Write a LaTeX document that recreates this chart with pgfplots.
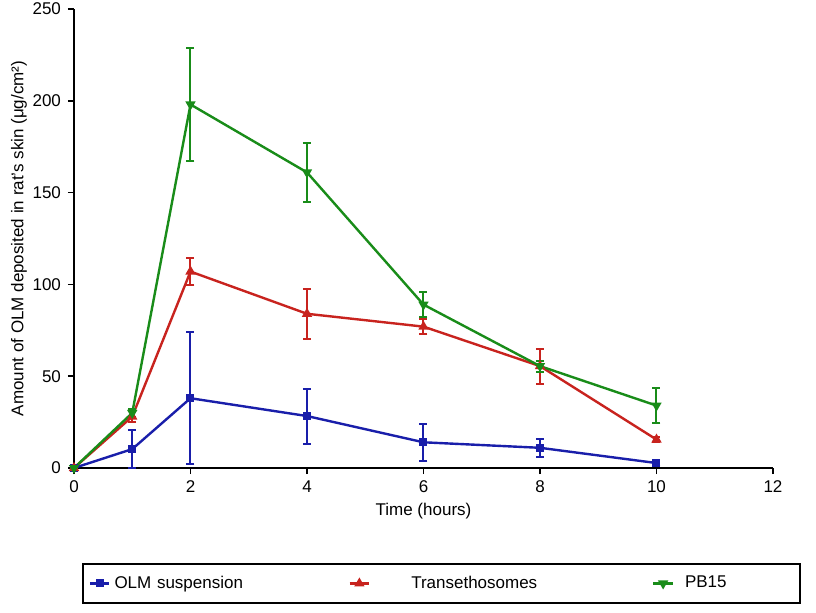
\documentclass[border=0pt]{standalone}
\usepackage{fontspec}
\setmainfont{Liberation Sans}
\usepackage{pgfplots}
\pgfplotsset{compat=1.18}
\definecolor{cblue}{RGB}{25,30,170}
\definecolor{cred}{RGB}{200,35,30}
\definecolor{cgreen}{RGB}{25,140,25}
\begin{document}
\begin{tikzpicture}
\useasboundingbox (0,0) rectangle (408pt,306pt);
\begin{axis}[
  at={(37pt,72pt)}, anchor=south west,
  scale only axis, width=349.5pt, height=229.5pt,
  xmin=0, xmax=12, ymin=0, ymax=250,
  axis x line*=bottom, axis y line*=left,
  axis line style={line width=0.8pt, -},
  xtick={0,2,4,6,8,10,12}, ytick={0,50,100,150,200,250},
  tick align=outside, major tick length=3pt,
  tick style={line width=0.8pt, black},
  /pgf/number format/assume math mode=true,
  ticklabel style={font=\fontsize{8.5}{10}\selectfont},
  label style={font=\fontsize{8.5}{10}\selectfont},
  xlabel={Time (hours)}, ylabel={Amount of OLM deposited in rat's skin (μg/cm²)},
  xlabel style={yshift=2pt},
  ylabel style={yshift=-4pt},
  every axis plot/.append style={line width=1.2pt},
  error bars/error bar style={line width=1pt},
  error bars/error mark options={rotate=90, mark size=2pt, line width=1pt},
  legend columns=3,
  legend style={at={(rel axis cs:0.0114,-0.207)}, anchor=north west,
    draw=black, line width=0.8pt, font=\fontsize{8.5}{10}\selectfont,
    inner ysep=4pt, inner xsep=3pt,
    nodes={align=left, inner sep=2pt},
    /tikz/every even column/.append style={column sep=0pt}},
  legend image code/.code={\draw[mark repeat=2, mark phase=2, #1] plot coordinates {(0cm,0cm) (0.17cm,0cm) (0.34cm,0cm)};},
]
\addplot[color=cblue, mark=square*, mark size=1.4pt, error bars/.cd, y dir=both, y explicit]
  coordinates {(0,0) +- (0,0) (1,10.3) +- (0,10.5) (2,38) +- (0,36) (4,28.3) +- (0,15) (6,14) +- (0,10) (8,11) +- (0,5) (10,2.7) +- (0,0.8)};
\addlegendentry[text width=115pt]{OLM suspension}
\addplot[color=cred, mark=triangle*, mark size=1.8pt, error bars/.cd, y dir=both, y explicit]
  coordinates {(0,0) +- (0,0) (1,28) +- (0,3) (2,107) +- (0,7.5) (4,84) +- (0,13.5) (6,77) +- (0,4) (8,55.5) +- (0,9.5) (10,15.5) +- (0,1.5)};
\addlegendentry[text width=137pt]{\hspace*{18.5pt}Transethosomes}
\addplot[color=cgreen, mark=triangle*, mark options={rotate=180}, mark size=1.8pt, error bars/.cd, y dir=both, y explicit]
  coordinates {(0,0) +- (0,0) (1,30) +- (0,2) (2,198) +- (0,31) (4,161) +- (0,16) (6,89) +- (0,7) (8,55.5) +- (0,3) (10,34) +- (0,9.5)};
\addlegendentry[text width=56pt]{\hspace*{3.5pt}PB15}
\end{axis}
\end{tikzpicture}
\end{document}
